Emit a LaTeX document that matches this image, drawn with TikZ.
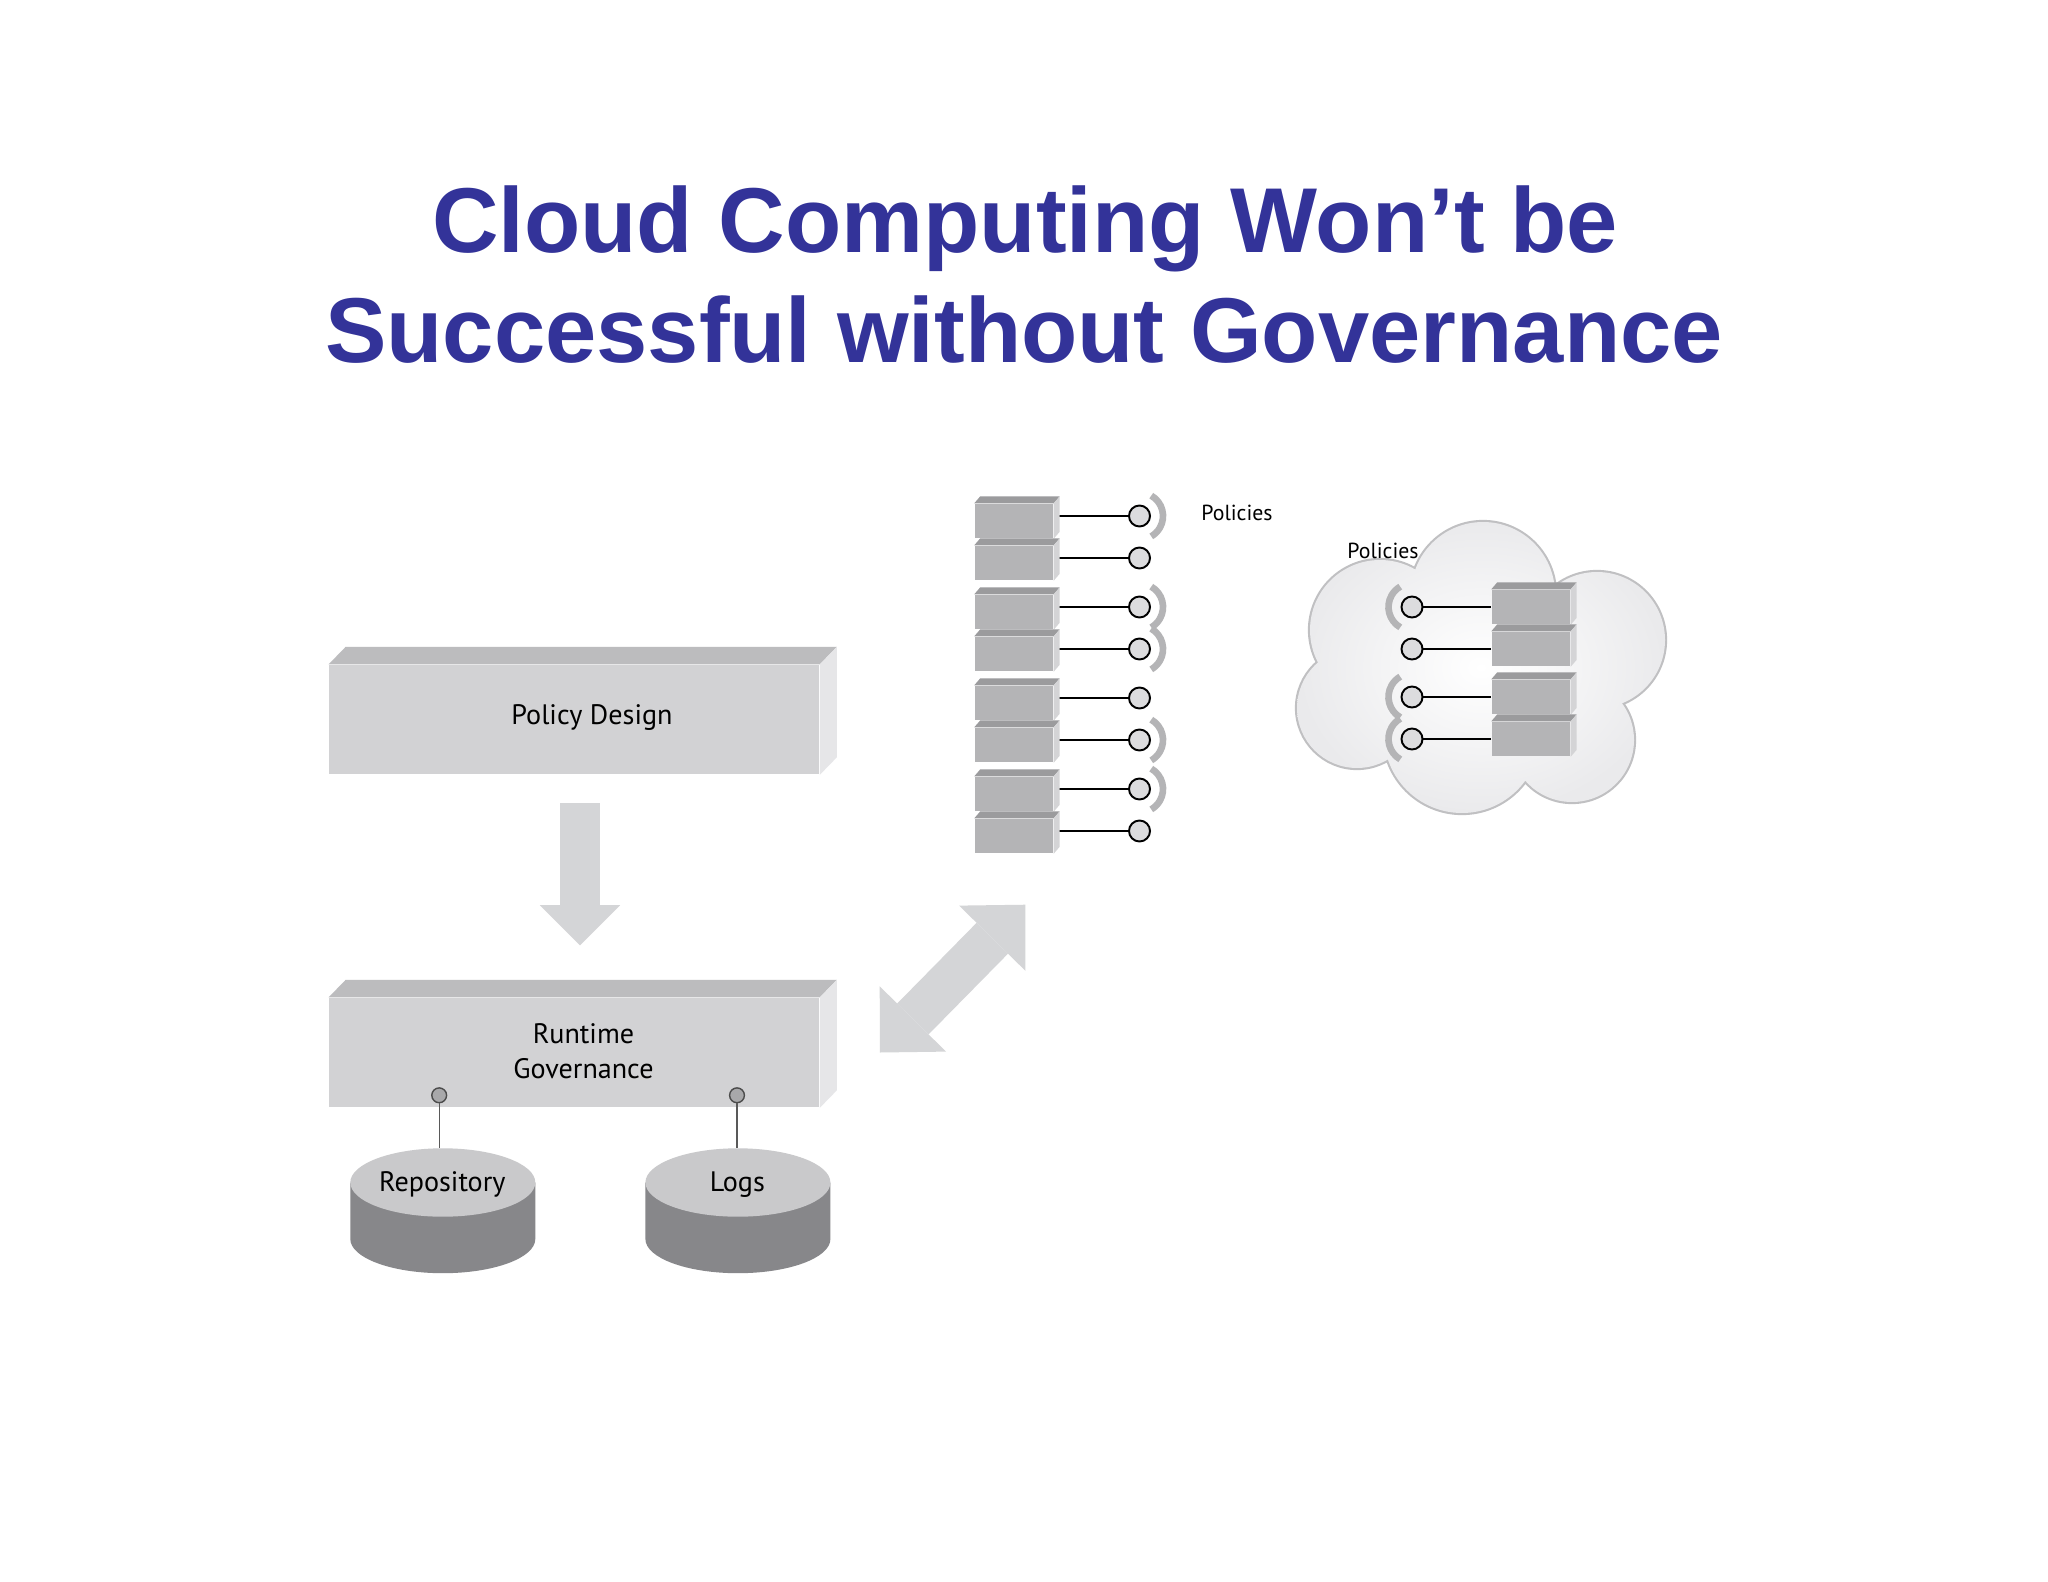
\documentclass[tikz,border=0pt]{standalone}
\usepackage{fontspec}
\setmainfont{PT Sans}
\newfontfamily\titlefont{Liberation Sans}
\usetikzlibrary{arrows.meta,positioning}
\definecolor{titleblue}{RGB}{51,51,153}
\definecolor{slabfront}{RGB}{210,210,212}
\definecolor{slabtop}{RGB}{188,188,190}
\definecolor{slabside}{RGB}{230,230,232}
\definecolor{srvfront}{RGB}{180,180,182}
\definecolor{srvtop}{RGB}{155,155,157}
\definecolor{srvside}{RGB}{212,212,214}
\definecolor{dbtop}{RGB}{201,201,203}
\definecolor{dbside}{RGB}{135,135,138}
\definecolor{flowgray}{RGB}{212,213,215}
\definecolor{bracketgray}{RGB}{180,180,182}
\definecolor{portgray}{RGB}{220,220,222}
\definecolor{dotgray}{RGB}{168,168,170}
\definecolor{cloudedge}{RGB}{192,192,194}
\definecolor{cloudshade}{RGB}{234,234,236}
\newcommand\cloudpath{(1483,594) circle[radius=72] (1380,630) circle[radius=70] (1357,708) circle[radius=60] (1462,735) circle[radius=78] (1572,740) circle[radius=62] (1597,640) circle[radius=68] (1490,680) circle[radius=80]}

\begin{document}
\begin{tikzpicture}[x=0.01cm,y=-0.01cm,>=Stealth,
  every node/.style={font=\fontsize{8}{10}\selectfont},
  heading/.style={font=\titlefont\bfseries\fontsize{26.2}{31.3}\selectfont,text=titleblue,anchor=base,inner sep=0},
  slab/.style={fill=slabfront,minimum width=4.895cm,minimum height=1.09cm,inner sep=0},
  srv/.style={fill=srvfront,minimum width=0.78cm,minimum height=0.34cm,inner sep=0},
  port/.style={circle,draw=black,fill=portgray,line width=0.55pt,minimum size=0.21cm,inner sep=0},
  dbdot/.style={circle,draw=black!70,fill=dotgray,line width=0.4pt,minimum size=0.148cm,inner sep=0},
  bracket/.style={draw=bracketgray,line width=1.9pt},
  wire/.style={draw=black,line width=0.55pt},
  stem/.style={draw=black!65,line width=0.4pt},
  policytag/.style={font=\fontsize{6.2}{7}\selectfont,anchor=base west,inner sep=0},
  boxtext/.style={anchor=base,inner sep=0},
  flow/.style={draw=flowgray,line width=0.4cm,-{Triangle[length=0.4cm,width=0.8cm,line width=0pt]}},
  twoflow/.style={draw=flowgray,line width=0.44cm,{Triangle[length=0.47cm,width=0.93cm,line width=0pt]}-{Triangle[length=0.47cm,width=0.93cm,line width=0pt]}}]
\useasboundingbox (0,0) rectangle (2048,1582);
\fill[white] (0,0) rectangle (2048,1582);

% title
\node[heading] (title1) at (1025,253) {Cloud Computing Won’t be};
\node[heading] (title2) at (1024,363) {Successful without Governance};

% design and runtime slabs
\node[slab] (design) at (574.3,719.5) {};
\node[slab] (runtime) at (574.3,1052.5) {};
\foreach \n in {design,runtime} {
  \fill[slabtop] (\n.north west) -- ++(17,-17.5) -- ([shift={(17,-17.5)}]\n.north east) -- (\n.north east) -- cycle;
  \fill[slabside] (\n.north east) -- ++(17,-17.5) -- ([shift={(17,-17.5)}]\n.south east) -- (\n.south east) -- cycle;
}
\node[boxtext] (designtext) at (592,724.3) {Policy Design};
\node[align=center] (runtimetext) at (583.5,1051) {Runtime\\Governance};

% stores
\foreach \cx in {442.8,737.9} {
  \fill[dbside] (\cx-92.5,1182.5) -- (\cx-92.5,1239) arc[start angle=180,end angle=0,x radius=92.5,y radius=34.2] -- (\cx+92.5,1182.5) -- cycle;
  \fill[dbtop] (\cx,1182.5) ellipse[x radius=92.5,y radius=34.2];
}
\node[boxtext] (repo) at (442.3,1191.7) {Repository};
\node[boxtext] (logs) at (737.4,1191.7) {Logs};
\node[dbdot] (repodot) at (439.2,1095.3) {};
\node[dbdot] (logsdot) at (737,1095.3) {};
\coordinate (repotop) at (439.2,1148.3);
\coordinate (logstop) at (737,1148.3);
\draw[stem] (repodot) -- (repotop);
\draw[stem] (logsdot) -- (logstop);

\draw[flow] ([shift={(5.7,28.7)}]design.south) -- ([shift={(5.7,-52)}]runtime.north);

% service stack
\foreach \i/\ty in {1/497,2/539,3/588,4/630,5/679,6/721,7/770,8/812} {
  \node[srv] (srv\i) at (1014,\ty+24) {};
  \node[port] (p\i) at (1139.5,\ty+19) {};
  \draw[wire] (p\i) -- (p\i -| srv\i.east);
  \fill[srvtop] (srv\i.north west) -- ++(6,-7) -- ([shift={(6,-7)}]srv\i.north east) -- (srv\i.north east) -- cycle;
  \fill[srvside] (srv\i.north east) -- ++(6,-7) -- ([shift={(6,-7)}]srv\i.south east) -- (srv\i.south east) -- cycle;
}
\foreach \i in {1,3,4,6,7}
  \draw[bracket] ([shift={(-60:23.5)}]p\i.center) arc[start angle=-60,end angle=60,radius=23.5];
\node[policytag] (stacktag) at (1200.7,520.7) {Policies};

\coordinate (swapa) at ([shift={(60,0)}]runtime.east);
\coordinate (swapb) at ([shift={(51,51)}]srv8.south west);
\draw[twoflow] (swapa) -- (swapb);

% cloud
\draw[draw=cloudedge,line width=1.2pt] \cloudpath;
\shade[inner color=white,outer color=cloudshade] \cloudpath;
\node[policytag] (cloudtag) at (1346.7,558) {Policies};
\foreach \i/\ty in {1/583,2/625,3/673,4/715} {
  \node[srv] (cs\i) at (1531,\ty+24) {};
  \node[port] (q\i) at (1412,\ty+24) {};
  \draw[wire] (q\i) -- (q\i -| cs\i.west);
  \fill[srvtop] (cs\i.north west) -- ++(6,-7) -- ([shift={(6,-7)}]cs\i.north east) -- (cs\i.north east) -- cycle;
  \fill[srvside] (cs\i.north east) -- ++(6,-7) -- ([shift={(6,-7)}]cs\i.south east) -- (cs\i.south east) -- cycle;
}
\foreach \i in {1,3,4}
  \draw[bracket] ([shift={(120:23.5)}]q\i.center) arc[start angle=120,end angle=240,radius=23.5];
\end{tikzpicture}
\end{document}
